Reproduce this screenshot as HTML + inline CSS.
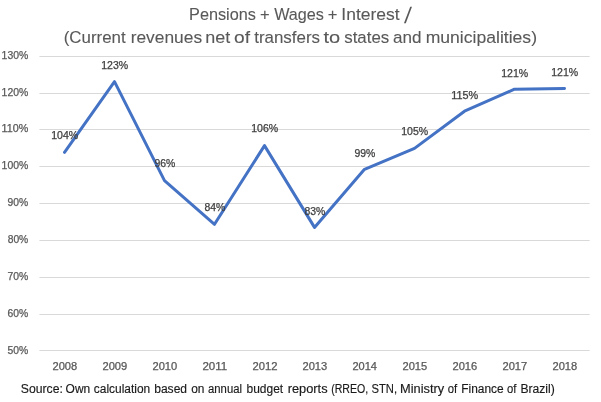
<!DOCTYPE html>
<html><head><meta charset="utf-8"><title>Chart</title>
<style>
html,body{margin:0;padding:0;background:#fff;}
svg{display:block;font-family:"Liberation Sans",sans-serif;}
</style></head><body>
<svg width="601" height="402" viewBox="0 0 601 402">
<rect width="601" height="402" fill="#fff"/>
<line x1="39.4" x2="589.6" y1="56.5" y2="56.5" stroke="#d9d9d9" stroke-width="1"/>
<line x1="39.4" x2="589.6" y1="93.5" y2="93.5" stroke="#d9d9d9" stroke-width="1"/>
<line x1="39.4" x2="589.6" y1="129.5" y2="129.5" stroke="#d9d9d9" stroke-width="1"/>
<line x1="39.4" x2="589.6" y1="166.5" y2="166.5" stroke="#d9d9d9" stroke-width="1"/>
<line x1="39.4" x2="589.6" y1="203.5" y2="203.5" stroke="#d9d9d9" stroke-width="1"/>
<line x1="39.4" x2="589.6" y1="240.5" y2="240.5" stroke="#d9d9d9" stroke-width="1"/>
<line x1="39.4" x2="589.6" y1="277.5" y2="277.5" stroke="#d9d9d9" stroke-width="1"/>
<line x1="39.4" x2="589.6" y1="314.5" y2="314.5" stroke="#d9d9d9" stroke-width="1"/>
<line x1="39.4" x2="589.6" y1="350.5" y2="350.5" stroke="#d9d9d9" stroke-width="1"/>
<text x="189.05" y="19.5" font-size="16.4" fill="#595959" stroke="#595959" stroke-width="0.1" textLength="66.89" lengthAdjust="spacingAndGlyphs">Pensions</text>
<text x="260.10" y="19.5" font-size="16.4" fill="#595959" stroke="#595959" stroke-width="0.1" textLength="9.64" lengthAdjust="spacingAndGlyphs">+</text>
<text x="274.16" y="19.5" font-size="16.4" fill="#595959" stroke="#595959" stroke-width="0.1" textLength="49.74" lengthAdjust="spacingAndGlyphs">Wages</text>
<text x="327.70" y="19.5" font-size="16.4" fill="#595959" stroke="#595959" stroke-width="0.1" textLength="9.64" lengthAdjust="spacingAndGlyphs">+</text>
<text x="341.37" y="19.5" font-size="16.4" fill="#595959" stroke="#595959" stroke-width="0.1" textLength="58.27" lengthAdjust="spacingAndGlyphs">Interest</text>
<text x="63.72" y="43.0" font-size="16.4" fill="#595959" stroke="#595959" stroke-width="0.1" textLength="61.89" lengthAdjust="spacingAndGlyphs">(Current</text>
<text x="130.70" y="43.0" font-size="16.4" fill="#595959" stroke="#595959" stroke-width="0.1" textLength="71.38" lengthAdjust="spacingAndGlyphs">revenues</text>
<text x="205.15" y="43.0" font-size="16.4" fill="#595959" stroke="#595959" stroke-width="0.1" textLength="25.00" lengthAdjust="spacingAndGlyphs">net</text>
<text x="234.06" y="43.0" font-size="16.4" fill="#595959" stroke="#595959" stroke-width="0.1" textLength="15.97" lengthAdjust="spacingAndGlyphs">of</text>
<text x="254.22" y="43.0" font-size="16.4" fill="#595959" stroke="#595959" stroke-width="0.1" textLength="65.80" lengthAdjust="spacingAndGlyphs">transfers</text>
<text x="323.57" y="43.0" font-size="16.4" fill="#595959" stroke="#595959" stroke-width="0.1" textLength="16.70" lengthAdjust="spacingAndGlyphs">to</text>
<text x="344.21" y="43.0" font-size="16.4" fill="#595959" stroke="#595959" stroke-width="0.1" textLength="44.99" lengthAdjust="spacingAndGlyphs">states</text>
<text x="393.12" y="43.0" font-size="16.4" fill="#595959" stroke="#595959" stroke-width="0.1" textLength="28.51" lengthAdjust="spacingAndGlyphs">and</text>
<text x="425.68" y="43.0" font-size="16.4" fill="#595959" stroke="#595959" stroke-width="0.1" textLength="111.34" lengthAdjust="spacingAndGlyphs">municipalities)</text>
<text x="1.60" y="58.6" font-size="10.1" fill="#595959" stroke="#595959" stroke-width="0.25" textLength="26.67" lengthAdjust="spacingAndGlyphs">130%</text>
<text x="1.60" y="95.5" font-size="10.1" fill="#595959" stroke="#595959" stroke-width="0.25" textLength="26.67" lengthAdjust="spacingAndGlyphs">120%</text>
<text x="1.57" y="132.4" font-size="10.1" fill="#595959" stroke="#595959" stroke-width="0.25" textLength="26.72" lengthAdjust="spacingAndGlyphs">110%</text>
<text x="1.60" y="169.3" font-size="10.1" fill="#595959" stroke="#595959" stroke-width="0.25" textLength="26.67" lengthAdjust="spacingAndGlyphs">100%</text>
<text x="7.61" y="206.2" font-size="10.1" fill="#595959" stroke="#595959" stroke-width="0.25" textLength="20.66" lengthAdjust="spacingAndGlyphs">90%</text>
<text x="7.66" y="243.0" font-size="10.1" fill="#595959" stroke="#595959" stroke-width="0.25" textLength="20.61" lengthAdjust="spacingAndGlyphs">80%</text>
<text x="7.49" y="279.9" font-size="10.1" fill="#595959" stroke="#595959" stroke-width="0.25" textLength="20.78" lengthAdjust="spacingAndGlyphs">70%</text>
<text x="7.58" y="316.8" font-size="10.1" fill="#595959" stroke="#595959" stroke-width="0.25" textLength="20.69" lengthAdjust="spacingAndGlyphs">60%</text>
<text x="7.51" y="353.6" font-size="10.1" fill="#595959" stroke="#595959" stroke-width="0.25" textLength="20.76" lengthAdjust="spacingAndGlyphs">50%</text>
<text x="52.47" y="369.8" font-size="10.1" fill="#595959" stroke="#595959" stroke-width="0.25" textLength="24.75" lengthAdjust="spacingAndGlyphs">2008</text>
<text x="102.47" y="369.8" font-size="10.1" fill="#595959" stroke="#595959" stroke-width="0.25" textLength="24.78" lengthAdjust="spacingAndGlyphs">2009</text>
<text x="152.47" y="369.8" font-size="10.1" fill="#595959" stroke="#595959" stroke-width="0.25" textLength="24.70" lengthAdjust="spacingAndGlyphs">2010</text>
<text x="202.45" y="369.8" font-size="10.1" fill="#595959" stroke="#595959" stroke-width="0.25" textLength="24.81" lengthAdjust="spacingAndGlyphs">2011</text>
<text x="252.47" y="369.8" font-size="10.1" fill="#595959" stroke="#595959" stroke-width="0.25" textLength="24.96" lengthAdjust="spacingAndGlyphs">2012</text>
<text x="302.47" y="369.8" font-size="10.1" fill="#595959" stroke="#595959" stroke-width="0.25" textLength="24.75" lengthAdjust="spacingAndGlyphs">2013</text>
<text x="352.48" y="369.8" font-size="10.1" fill="#595959" stroke="#595959" stroke-width="0.25" textLength="24.53" lengthAdjust="spacingAndGlyphs">2014</text>
<text x="402.47" y="369.8" font-size="10.1" fill="#595959" stroke="#595959" stroke-width="0.25" textLength="24.73" lengthAdjust="spacingAndGlyphs">2015</text>
<text x="452.47" y="369.8" font-size="10.1" fill="#595959" stroke="#595959" stroke-width="0.25" textLength="24.75" lengthAdjust="spacingAndGlyphs">2016</text>
<text x="502.47" y="369.8" font-size="10.1" fill="#595959" stroke="#595959" stroke-width="0.25" textLength="24.80" lengthAdjust="spacingAndGlyphs">2017</text>
<text x="552.47" y="369.8" font-size="10.1" fill="#595959" stroke="#595959" stroke-width="0.25" textLength="24.75" lengthAdjust="spacingAndGlyphs">2018</text>
<path d="M64.5,152.3 L114.5,81.6 L164.5,180.6 L214.5,224.3 L264.5,145.6 L314.5,227.4 L364.5,169.3 L414.5,148.4 L464.5,111.2 L514.5,89.2 L564.5,88.5" fill="none" stroke="#4472c4" stroke-width="3" stroke-linejoin="round" stroke-linecap="round"/>
<text x="51.19" y="139.0" font-size="10.1" fill="#404040" stroke="#404040" stroke-width="0.25" textLength="26.99" lengthAdjust="spacingAndGlyphs">104%</text>
<text x="101.19" y="69.0" font-size="10.1" fill="#404040" stroke="#404040" stroke-width="0.25" textLength="26.99" lengthAdjust="spacingAndGlyphs">123%</text>
<text x="154.41" y="167.0" font-size="10.1" fill="#404040" stroke="#404040" stroke-width="0.25" textLength="20.87" lengthAdjust="spacingAndGlyphs">96%</text>
<text x="204.45" y="211.0" font-size="10.1" fill="#404040" stroke="#404040" stroke-width="0.25" textLength="20.82" lengthAdjust="spacingAndGlyphs">84%</text>
<text x="251.19" y="131.6" font-size="10.1" fill="#404040" stroke="#404040" stroke-width="0.25" textLength="26.99" lengthAdjust="spacingAndGlyphs">106%</text>
<text x="304.45" y="215.2" font-size="10.1" fill="#404040" stroke="#404040" stroke-width="0.25" textLength="20.82" lengthAdjust="spacingAndGlyphs">83%</text>
<text x="354.41" y="156.6" font-size="10.1" fill="#404040" stroke="#404040" stroke-width="0.25" textLength="20.87" lengthAdjust="spacingAndGlyphs">99%</text>
<text x="401.19" y="134.6" font-size="10.1" fill="#404040" stroke="#404040" stroke-width="0.25" textLength="26.99" lengthAdjust="spacingAndGlyphs">105%</text>
<text x="451.16" y="98.9" font-size="10.1" fill="#404040" stroke="#404040" stroke-width="0.25" textLength="27.04" lengthAdjust="spacingAndGlyphs">115%</text>
<text x="501.19" y="76.8" font-size="10.1" fill="#404040" stroke="#404040" stroke-width="0.25" textLength="26.99" lengthAdjust="spacingAndGlyphs">121%</text>
<text x="551.19" y="75.7" font-size="10.1" fill="#404040" stroke="#404040" stroke-width="0.25" textLength="26.99" lengthAdjust="spacingAndGlyphs">121%</text>
<text x="20.79" y="393.1" font-size="12.0" fill="#1a1a1a" stroke="#1a1a1a" stroke-width="0.15" textLength="42.05" lengthAdjust="spacingAndGlyphs">Source:</text>
<text x="65.60" y="393.1" font-size="12.0" fill="#1a1a1a" stroke="#1a1a1a" stroke-width="0.15" textLength="24.61" lengthAdjust="spacingAndGlyphs">Own</text>
<text x="93.85" y="393.1" font-size="12.0" fill="#1a1a1a" stroke="#1a1a1a" stroke-width="0.15" textLength="56.38" lengthAdjust="spacingAndGlyphs">calculation</text>
<text x="154.19" y="393.1" font-size="12.0" fill="#1a1a1a" stroke="#1a1a1a" stroke-width="0.15" textLength="32.87" lengthAdjust="spacingAndGlyphs">based</text>
<text x="191.17" y="393.1" font-size="12.0" fill="#1a1a1a" stroke="#1a1a1a" stroke-width="0.15" textLength="13.26" lengthAdjust="spacingAndGlyphs">on</text>
<text x="208.06" y="393.1" font-size="12.0" fill="#1a1a1a" stroke="#1a1a1a" stroke-width="0.15" textLength="33.92" lengthAdjust="spacingAndGlyphs">annual</text>
<text x="246.50" y="393.1" font-size="12.0" fill="#1a1a1a" stroke="#1a1a1a" stroke-width="0.15" textLength="36.61" lengthAdjust="spacingAndGlyphs">budget</text>
<text x="287.73" y="393.1" font-size="12.0" fill="#1a1a1a" stroke="#1a1a1a" stroke-width="0.15" textLength="39.86" lengthAdjust="spacingAndGlyphs">reports</text>
<text x="331.20" y="393.1" font-size="12.0" fill="#1a1a1a" stroke="#1a1a1a" stroke-width="0.15" textLength="37.09" lengthAdjust="spacingAndGlyphs">(RREO,</text>
<text x="371.47" y="393.1" font-size="12.0" fill="#1a1a1a" stroke="#1a1a1a" stroke-width="0.15" textLength="25.56" lengthAdjust="spacingAndGlyphs">STN,</text>
<text x="400.05" y="393.1" font-size="12.0" fill="#1a1a1a" stroke="#1a1a1a" stroke-width="0.15" textLength="44.14" lengthAdjust="spacingAndGlyphs">Ministry</text>
<text x="447.69" y="393.1" font-size="12.0" fill="#1a1a1a" stroke="#1a1a1a" stroke-width="0.15" textLength="9.42" lengthAdjust="spacingAndGlyphs">of</text>
<text x="461.32" y="393.1" font-size="12.0" fill="#1a1a1a" stroke="#1a1a1a" stroke-width="0.15" textLength="42.38" lengthAdjust="spacingAndGlyphs">Finance</text>
<text x="507.09" y="393.1" font-size="12.0" fill="#1a1a1a" stroke="#1a1a1a" stroke-width="0.15" textLength="9.42" lengthAdjust="spacingAndGlyphs">of</text>
<text x="520.40" y="393.1" font-size="12.0" fill="#1a1a1a" stroke="#1a1a1a" stroke-width="0.15" textLength="34.41" lengthAdjust="spacingAndGlyphs">Brazil)</text>
<text transform="translate(404.0,22.7) skewX(-6)" x="0" y="0" font-size="22.5" fill="#595959">/</text>
</svg></body></html>
